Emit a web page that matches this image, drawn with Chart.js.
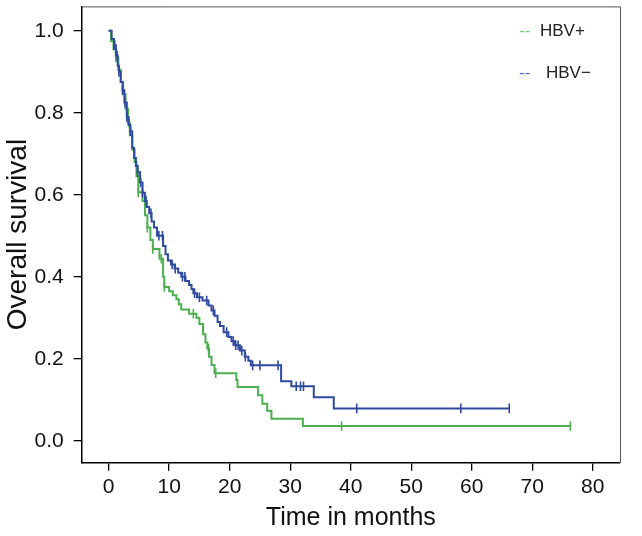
<!DOCTYPE html>
<html>
<head>
<meta charset="utf-8">
<script src="https://cdn.jsdelivr.net/npm/chart.js@4.4.1/dist/chart.umd.min.js"></script>
<style>
html,body{margin:0;padding:0;background:#fff;}
#wrap{position:relative;width:642px;height:536px;}
canvas{display:block;}
</style>
</head>
<body>
<div id="wrap"><canvas id="c" width="642" height="536"></canvas></div>
<script>
// ---- Data ----
const timeTicks = [0, 10, 20, 30, 40, 50, 60, 70, 80];
const survTicks = [0, 0.2, 0.4, 0.6, 0.8, 1.0];

// HBV− (blue) Kaplan–Meier steps: time (months) and survival after the event
const hbvNegTimes = [0, 0.5, 0.9, 1.2, 1.5, 1.7, 2.0, 2.3, 2.6, 3.0, 3.3, 3.6, 3.9, 4.2, 4.5, 4.8, 5.2, 5.6, 6.0, 6.3, 6.7, 7.1, 7.5, 8.0, 9.0, 9.4, 9.8, 10.3, 10.9, 11.5, 12.0, 12.7, 13.3, 13.7, 14.0, 14.6, 15.5, 16.5, 17.0, 17.5, 18.0, 18.4, 19.0, 19.8, 20.3, 20.9, 21.7, 22.5, 23.1, 23.5, 28.5, 30.2, 33.9, 37.2, 66.2];
const hbvNegSurv  = [1.0, 0.98, 0.965, 0.94, 0.915, 0.90, 0.875, 0.855, 0.825, 0.79, 0.77, 0.755, 0.715, 0.69, 0.67, 0.655, 0.63, 0.605, 0.585, 0.57, 0.555, 0.535, 0.52, 0.50, 0.475, 0.455, 0.44, 0.43, 0.42, 0.41, 0.40, 0.39, 0.38, 0.37, 0.36, 0.35, 0.342, 0.33, 0.318, 0.305, 0.29, 0.28, 0.265, 0.253, 0.243, 0.233, 0.22, 0.205, 0.195, 0.184, 0.145, 0.133, 0.106, 0.079, 0.079];
const hbvNegCensored = [0.9, 1.0, 1.4, 1.7, 2.3, 2.7, 3.0, 3.6, 4.8, 5.3, 5.6, 6.2, 7.0, 8.3, 8.9, 10.5, 11.0, 12.2, 12.6, 14.2, 15.0, 16.2, 17.3, 19.5, 20.6, 21.0, 21.4, 22.0, 22.6, 23.8, 25.0, 28.0, 31.0, 31.7, 32.2, 41.0, 58.2, 66.2];

// HBV+ (green)
const hbvPosTimes = [0, 0.4, 0.8, 1.2, 1.6, 2.0, 2.4, 2.8, 3.2, 3.5, 3.9, 4.3, 4.6, 4.9, 5.6, 6.0, 6.4, 6.9, 7.3, 8.4, 9.0, 9.2, 10.0, 10.6, 11.2, 11.6, 12.0, 13.3, 14.5, 15.0, 15.6, 16.0, 16.3, 16.6, 17.0, 17.5, 21.1, 21.3, 24.7, 25.4, 26.2, 26.9, 32.1, 76.3];
const hbvPosSurv  = [1.0, 0.975, 0.955, 0.935, 0.905, 0.875, 0.845, 0.81, 0.775, 0.745, 0.71, 0.68, 0.645, 0.606, 0.585, 0.55, 0.52, 0.49, 0.468, 0.444, 0.40, 0.375, 0.365, 0.355, 0.345, 0.333, 0.32, 0.31, 0.30, 0.285, 0.26, 0.24, 0.225, 0.205, 0.185, 0.165, 0.148, 0.131, 0.111, 0.09, 0.073, 0.054, 0.036, 0.036];
const hbvPosCensored = [1.2, 3.4, 4.9, 6.4, 7.3, 8.7, 9.2, 14.0, 16.5, 17.7, 38.5, 76.3];

const seriesNames = ['HBV+', 'HBV\u2212'];
const colNeg = '#2e4a9e';
const colPos = '#4caf50';

// ---- helpers ----
function toPts(ts, ss){ return ts.map((t,i)=>({x:t, y:ss[i]})); }
function survAt(ts, ss, t){
  let v = ss[0];
  for (let i=0;i<ts.length;i++){ if (ts[i] <= t + 1e-9) v = ss[i]; else break; }
  return v;
}
function censorPts(cs, ts, ss){ return cs.map(t=>({x:t, y:survAt(ts, ss, t)})); }

const FONT = "'Liberation Sans', Arial, Helvetica, sans-serif";

const framePlugin = {
  id: 'frame',
  afterDraw(chart){
    const {ctx, chartArea:a} = chart;
    ctx.save();
    ctx.strokeStyle = '#555';
    ctx.lineWidth = 1;
    ctx.beginPath();
    ctx.moveTo(a.left, a.top + 0.5);
    ctx.lineTo(a.right + 0.5, a.top + 0.5);
    ctx.lineTo(a.right + 0.5, a.bottom);
    ctx.stroke();
    // legend
    ctx.font = '17px ' + FONT;
    ctx.textBaseline = 'middle';
    ctx.textAlign = 'left';
    ctx.fillStyle = '#66d066';
    ctx.fillText('--', 519, 31);
    ctx.fillStyle = '#222';
    ctx.fillText(seriesNames[0], 540, 31);
    ctx.fillStyle = '#3a78d0';
    ctx.fillText('--', 519, 73);
    ctx.fillStyle = '#222';
    ctx.fillText(seriesNames[1], 546, 73);
    ctx.restore();
  }
};

new Chart(document.getElementById('c'), {
  type: 'line',
  data: {
    datasets: [
      { label: seriesNames[1], data: toPts(hbvNegTimes, hbvNegSurv), stepped: true, borderColor: colNeg, borderWidth: 2, pointRadius: 0, fill: false },
      { label: seriesNames[1] + ' censored', type: 'scatter', data: censorPts(hbvNegCensored, hbvNegTimes, hbvNegSurv), pointStyle: 'line', rotation: 90, pointRadius: 4.8, borderColor: colNeg, backgroundColor: colNeg, pointBorderWidth: 1.6 },
      { label: seriesNames[0], data: toPts(hbvPosTimes, hbvPosSurv), stepped: true, borderColor: colPos, borderWidth: 2, pointRadius: 0, fill: false },
      { label: seriesNames[0] + ' censored', type: 'scatter', data: censorPts(hbvPosCensored, hbvPosTimes, hbvPosSurv), pointStyle: 'line', rotation: 90, pointRadius: 4.8, borderColor: colPos, backgroundColor: colPos, pointBorderWidth: 1.6 }
    ]
  },
  options: {
    responsive: false,
    animation: false,
    devicePixelRatio: 1,
    layout: { padding: { top: 5, right: 22, left: 0, bottom: 0 } },
    plugins: { legend: { display: false }, tooltip: { enabled: false } },
    scales: {
      x: {
        type: 'linear', min: -4.45, max: 84.5,
        afterBuildTicks: s => { s.ticks = timeTicks.map(v => ({ value: v })); },
        afterFit: s => { s.height = 73.3; s.paddingLeft = 0; s.paddingRight = 0; },
        ticks: { autoSkip: false, maxRotation: 0, padding: 4, color: '#111', font: { family: FONT, size: 21 } },
        grid: { drawOnChartArea: false, tickLength: 8, color: '#000', lineWidth: 1.3 },
        border: { color: '#000', width: 1.5 },
        title: { display: true, text: 'Time in months', color: '#111', font: { family: FONT, size: 25 }, padding: { top: 0, bottom: 3 } }
      },
      y: {
        type: 'linear', min: -0.0535, max: 1.0596,
        afterBuildTicks: s => { s.ticks = survTicks.map(v => ({ value: v })); },
        afterFit: s => { s.width = 81.7; s.paddingTop = 0; s.paddingBottom = 0; },
        ticks: { autoSkip: false, padding: 10, color: '#111', font: { family: FONT, size: 21 }, callback: v => Number(v).toFixed(1) },
        grid: { drawOnChartArea: false, tickLength: 8, color: '#000', lineWidth: 1.3 },
        border: { color: '#000', width: 1.5 },
        title: { display: true, text: 'Overall survival', color: '#111', font: { family: FONT, size: 28 }, padding: { top: 1, bottom: 0 } }
      }
    }
  },
  plugins: [framePlugin]
});
</script>
</body>
</html>
